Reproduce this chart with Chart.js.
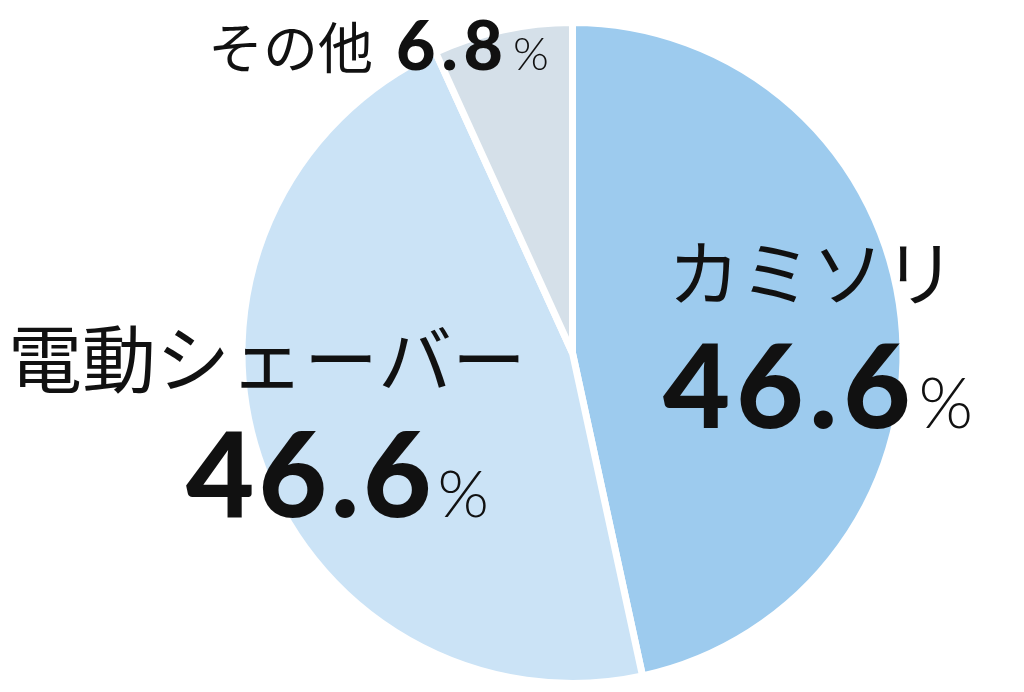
<!DOCTYPE html>
<html>
<head>
<meta charset="utf-8">
<script src="https://cdn.jsdelivr.net/npm/chart.js@4"></script>
<style>
  html, body { margin: 0; padding: 0; background: #fff; }
  canvas { display: block; }
</style>
</head>
<body>
<canvas id="myChart" width="1024" height="692"></canvas>
<script>
// Data
const labels = ["カミソリ", "電動シェーバー", "その他"];
const shares = [46.6, 46.6, 6.8];
const sliceColors = ["#9dcbee", "#cbe3f6", "#d5e0e9"];

// where each label block sits (text layout only)
const labelSpots = [
  { x: 668, numX: 663, nameY: 300, numY: 428, nameSize: 72, numSize: 116, pctSize: 70, spacing: 6, gap: 2 },
  { x: 8, numX: 186, nameY: 387, numY: 517, nameSize: 74, numSize: 118, pctSize: 66, spacing: 4, gap: 2 },
  { x: 208, numX: 396, nameY: 68, numY: 70, nameSize: 55, numSize: 68, pctSize: 46, spacing: 6, gap: 4 },
];

const labelPlugin = {
  id: "sliceLabels",
  afterDraw(chart) {
    const ctx = chart.ctx;
    ctx.save();
    ctx.fillStyle = "#111";
    ctx.textBaseline = "alphabetic";
    ctx.textAlign = "left";
    labels.forEach((name, i) => {
      const s = labelSpots[i];
      ctx.letterSpacing = "0px";
      ctx.font = `400 ${s.nameSize}px "Noto Sans CJK JP", sans-serif`;
      ctx.fillText(name, s.x, s.nameY);

      const num = shares[i].toFixed(1);
      ctx.letterSpacing = s.spacing + "px";
      ctx.font = `900 ${s.numSize}px "Lato", sans-serif`;
      ctx.fillText(num, s.numX, s.numY);
      const w = ctx.measureText(num).width;
      ctx.letterSpacing = "0px";
      ctx.font = `300 ${s.pctSize}px "Lato", sans-serif`;
      ctx.fillText("%", s.numX + w + s.gap, s.numY);
    });
    ctx.restore();
  },
};

const chart = new Chart(document.getElementById("myChart"), {
  type: "pie",
  data: {
    labels,
    datasets: [
      {
        data: shares,
        backgroundColor: sliceColors,
        borderColor: "#ffffff",
        borderWidth: 7,
      },
    ],
  },
  options: {
    responsive: false,
    animation: false,
    layout: {
      padding: { left: 238, right: 117, top: 19, bottom: 5 },
    },
    plugins: {
      legend: { display: false },
      tooltip: { enabled: false },
    },
  },
  plugins: [labelPlugin],
});
</script>
</body>
</html>
